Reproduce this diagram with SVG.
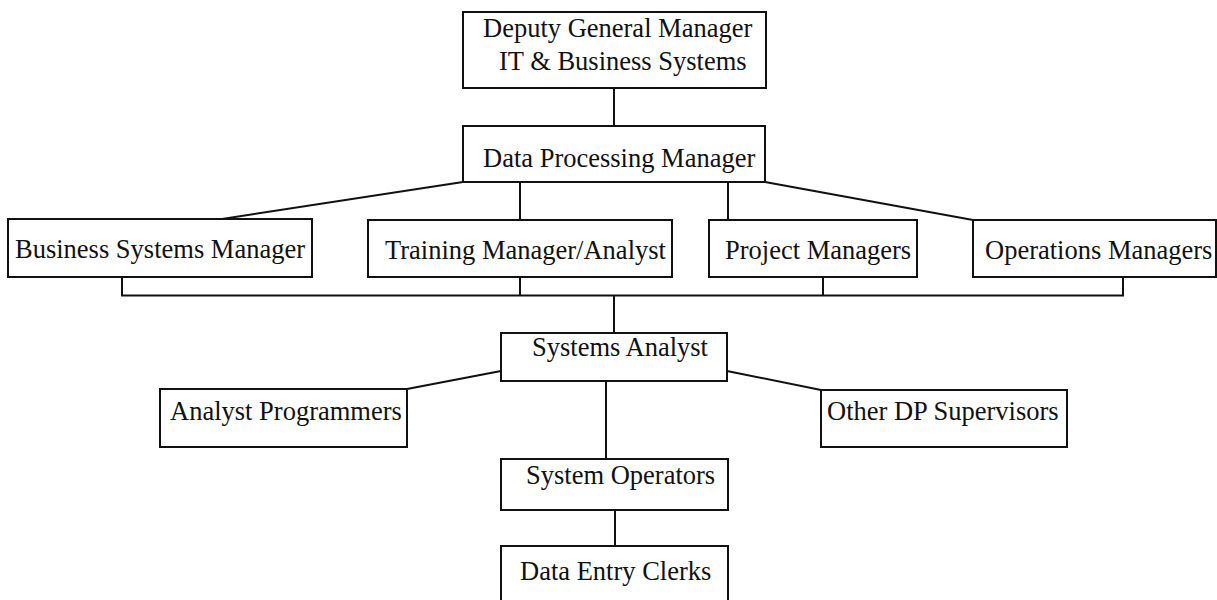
<svg xmlns="http://www.w3.org/2000/svg" width="1217" height="600" viewBox="0 0 1217 600">
<style>
rect.box{fill:#fff;stroke:#111;stroke-width:2}
text{font-family:"Liberation Serif","Times New Roman",serif;font-size:26.5px;fill:#111}
#connectors line, #connectors polyline{stroke:#111;stroke-width:2;fill:none}
</style>
<rect width="1217" height="600" fill="#fff"/>
<g id="connectors">
<line x1="614" y1="88" x2="614" y2="126"/>
<line x1="463" y1="182" x2="222" y2="219"/>
<line x1="520" y1="182" x2="520" y2="220"/>
<line x1="728" y1="182" x2="728" y2="220"/>
<line x1="765" y1="182" x2="973" y2="220"/>
<polyline points="122,277 122,295.5 1123,295.5 1123,277"/>
<line x1="520" y1="277" x2="520" y2="295.5"/>
<line x1="823" y1="277" x2="823" y2="295.5"/>
<line x1="614" y1="295.5" x2="614" y2="333"/>
<line x1="501" y1="371" x2="407" y2="389"/>
<line x1="727" y1="371" x2="821" y2="390"/>
<line x1="606" y1="381" x2="606" y2="459"/>
<line x1="615" y1="510" x2="615" y2="546"/>
</g>
<g id="node-dgm"><rect class="box" x="463" y="12" width="303" height="76"/><text x="483" y="37">Deputy General Manager</text><text x="499" y="70">IT &amp; Business Systems</text></g>
<g id="node-dpm"><rect class="box" x="463" y="126" width="302" height="56"/><text x="483" y="167">Data Processing Manager</text></g>
<g id="node-bsm"><rect class="box" x="8" y="219" width="304" height="58"/><text x="15" y="258">Business Systems Manager</text></g>
<g id="node-tma"><rect class="box" x="368" y="220" width="304" height="57"/><text x="385" y="259">Training Manager/Analyst</text></g>
<g id="node-pm"><rect class="box" x="709" y="220" width="208" height="57"/><text x="725" y="259">Project Managers</text></g>
<g id="node-om"><rect class="box" x="973" y="220" width="243" height="57"/><text x="985" y="259">Operations Managers</text></g>
<g id="node-sa"><rect class="box" x="501" y="333" width="226" height="48"/><text x="532" y="356">Systems Analyst</text></g>
<g id="node-ap"><rect class="box" x="160" y="389" width="247" height="58"/><text x="170" y="420">Analyst Programmers</text></g>
<g id="node-odp"><rect class="box" x="821" y="390" width="246" height="57"/><text x="827" y="420">Other DP Supervisors</text></g>
<g id="node-so"><rect class="box" x="501" y="459" width="227" height="51"/><text x="526" y="484">System Operators</text></g>
<g id="node-dec"><rect class="box" x="501" y="546" width="227" height="70"/><text x="520" y="580">Data Entry Clerks</text></g>
</svg>
